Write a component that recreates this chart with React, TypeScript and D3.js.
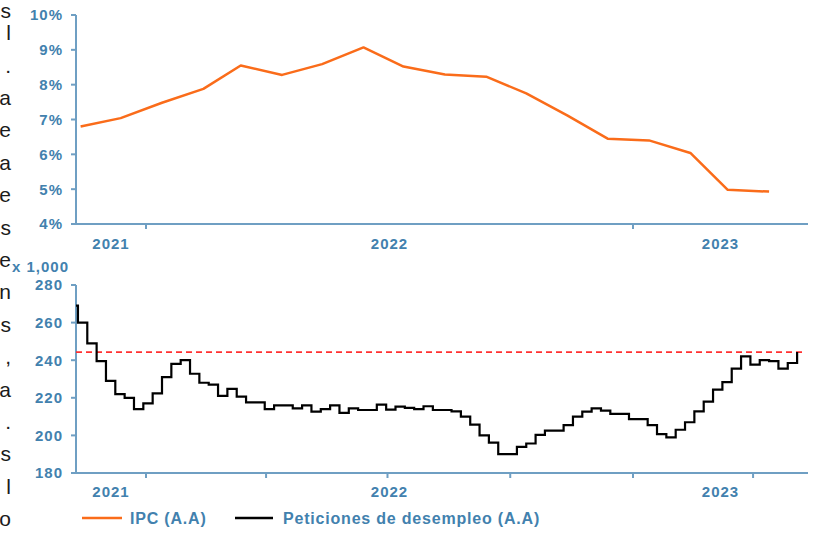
import React from "react";
import * as d3 from "d3";

// ---------- data ----------
const ipcDates: [number, number, number][] = [
  [2021, 10, 13], [2021, 11, 13],
  [2022, 0, 13], [2022, 1, 13], [2022, 2, 13], [2022, 3, 13], [2022, 4, 13], [2022, 5, 13],
  [2022, 6, 13], [2022, 7, 13], [2022, 8, 13], [2022, 9, 13], [2022, 10, 13], [2022, 11, 13],
  [2023, 0, 13], [2023, 1, 13], [2023, 2, 13], [2023, 3, 13],
];
const ipcValues = [6.8, 7.04, 7.48, 7.88, 8.55, 8.28, 8.59, 9.07, 8.52, 8.29, 8.23, 7.75, 7.11, 6.45, 6.4, 6.04, 4.98, 4.93];

const claimsFirstWeek: [number, number, number] = [2021, 10, 4];
const claimsValues = [
  269, 260, 249, 239.5, 229, 222, 220, 214, 217, 222.4, 231, 238, 240, 232.8, 228, 227, 221, 224.8,
  220.6, 217.6, 217.6, 214, 216, 216, 214.4, 216, 212.6, 214, 216, 212, 214.4, 213.5, 213.5, 216.4,
  213.7, 215.3, 214.6, 214, 215.5, 213.5, 213.5, 212.8, 210, 205.7, 200, 196.2, 190, 190, 193.9,
  195.7, 200.3, 202.5, 202.5, 205.5, 210, 212.6, 214.4, 213.2, 211.4, 211.4, 208.7, 208.7, 205.5,
  200.7, 198.9, 203, 207, 212.8, 218, 224.4, 228.3, 235.5, 242, 237.6, 240, 239.5, 235.5, 238.5, 244.3,
];
const claimsReference = 244.3;

const pctTicks = [4, 5, 6, 7, 8, 9, 10];
const claimsTicks = [180, 200, 220, 240, 260, 280];
const yearLabels = ["2021", "2022", "2023"];
const yearTicks: [number, number, number][] = [[2022, 0, 1], [2023, 0, 1]];
const quarterTicks: [number, number, number][] = [
  [2022, 0, 1], [2022, 3, 1], [2022, 6, 1], [2022, 9, 1], [2023, 0, 1], [2023, 3, 1],
];
const domainStart = new Date(2021, 10, 9, 13);
const domainEnd = new Date(2023, 4, 12, 4);
const unitLabel = "x 1,000";
const legendItems = ["IPC (A.A)", "Peticiones de desempleo (A.A)"];
const sideChars = ["s", "l", ".", "a", "e", "a", "e", "s", "e", "n", "s", ",", "a", ".", "s", "l", "o"];

// ---------- styles ----------
const AXIS = "#6f9fc3";
const TEXT = "#4281ae";
const ORANGE = "#fa6c1a";
const FONT = "'Liberation Sans', Arial, sans-serif";

const toDate = (d: [number, number, number]) => new Date(d[0], d[1], d[2]);

export default function App() {
  const W = 815, H = 533;
  const left = 76, right = 808;
  const x = d3.scaleTime().domain([domainStart, domainEnd]).range([left, right]);
  const yTop = d3.scaleLinear().domain([4, 10]).range([224, 15]);
  const yBot = d3.scaleLinear().domain([180, 280]).range([473, 285]);

  const ipc = ipcDates.map((d, i) => ({ date: toDate(d), v: ipcValues[i] }));
  const start = toDate(claimsFirstWeek);
  const claims = claimsValues.map((v, i) => ({ date: d3.timeDay.offset(start, 7 * i), v }));

  const ipcLine = d3.line<{ date: Date; v: number }>().x(d => x(d.date)).y(d => yTop(d.v));
  const claimsLine = d3
    .line<{ date: Date; v: number }>()
    .x(d => x(d.date))
    .y(d => yBot(d.v))
    .curve(d3.curveStepAfter);

  const bounds = [domainStart, ...yearTicks.map(toDate), domainEnd];
  const yearCenters = yearLabels.map((_, i) => (x(bounds[i]) + x(bounds[i + 1])) / 2);

  const tickLabel = { fontFamily: FONT, fontWeight: 700, fontSize: 15, letterSpacing: 1, fill: TEXT } as const;

  return (
    <div style={{ position: "absolute", left: 0, top: 0 }}>
      <svg width={W} height={H} style={{ display: "block", background: "#fff" }}>
        <defs>
          <clipPath id="plotclip">
            <rect x={left} y={0} width={right - left} height={H} />
          </clipPath>
        </defs>

        {/* side text fragments */}
        {sideChars.map((c, i) => (
          <text key={"s" + i} x={11} y={Math.max(18, 7.8 + i * 32.4)} textAnchor="end" fontFamily={FONT} fontSize={21} fill="#1b1b1b">
            {c}
          </text>
        ))}

        {/* ---------- top chart ---------- */}
        <line x1={left} x2={left} y1={yTop(10)} y2={yTop(4)} stroke={AXIS} strokeWidth={2} />
        <line x1={left} x2={right} y1={yTop(4)} y2={yTop(4)} stroke={AXIS} strokeWidth={2} />
        {pctTicks.map(t => (
          <g key={"pt" + t}>
            <line x1={left - 5} x2={left} y1={yTop(t)} y2={yTop(t)} stroke={AXIS} strokeWidth={2} />
            <text x={63} y={yTop(t)} dy="0.36em" textAnchor="end" {...tickLabel}>
              {t}%
            </text>
          </g>
        ))}
        {yearTicks.map((d, i) => (
          <line key={"yt" + i} x1={x(toDate(d))} x2={x(toDate(d))} y1={yTop(4)} y2={yTop(4) + 5} stroke={AXIS} strokeWidth={2} />
        ))}
        {yearLabels.map((l, i) => (
          <text key={"yl" + i} x={yearCenters[i]} y={249} textAnchor="middle" {...tickLabel}>
            {l}
          </text>
        ))}
        <path d={ipcLine(ipc) || ""} fill="none" stroke={ORANGE} strokeWidth={2.5} strokeLinejoin="round" />

        {/* ---------- bottom chart ---------- */}
        <text x={12} y={272} {...tickLabel}>
          {unitLabel}
        </text>
        <line x1={left} x2={left} y1={yBot(280)} y2={yBot(180)} stroke={AXIS} strokeWidth={2} />
        <line x1={left} x2={right} y1={yBot(180)} y2={yBot(180)} stroke={AXIS} strokeWidth={2} />
        {claimsTicks.map(t => (
          <g key={"ct" + t}>
            <line x1={left - 5} x2={left} y1={yBot(t)} y2={yBot(t)} stroke={AXIS} strokeWidth={2} />
            <text x={63} y={yBot(t)} dy="0.36em" textAnchor="end" {...tickLabel}>
              {t}
            </text>
          </g>
        ))}
        {quarterTicks.map((d, i) => (
          <line key={"qt" + i} x1={x(toDate(d))} x2={x(toDate(d))} y1={yBot(180)} y2={yBot(180) + 5} stroke={AXIS} strokeWidth={2} />
        ))}
        {yearLabels.map((l, i) => (
          <text key={"bl" + i} x={yearCenters[i]} y={497} textAnchor="middle" {...tickLabel}>
            {l}
          </text>
        ))}
        <line
          x1={left}
          x2={803}
          y1={yBot(claimsReference)}
          y2={yBot(claimsReference)}
          stroke="#ff3030"
          strokeWidth={1.8}
          strokeDasharray="6 4"
        />
        <path
          d={claimsLine(claims) || ""}
          fill="none"
          stroke="#000"
          strokeWidth={2.2}
          clipPath="url(#plotclip)"
        />

        {/* ---------- legend ---------- */}
        <line x1={82} x2={122} y1={518} y2={518} stroke={ORANGE} strokeWidth={2.5} />
        <text x={130} y={524} fontFamily={FONT} fontWeight={700} fontSize={16} letterSpacing={0.8} fill={TEXT}>
          {legendItems[0]}
        </text>
        <line x1={235} x2={273} y1={518} y2={518} stroke="#000" strokeWidth={2.5} />
        <text x={283} y={524} fontFamily={FONT} fontWeight={700} fontSize={16} letterSpacing={0.8} fill={TEXT}>
          {legendItems[1]}
        </text>
      </svg>
    </div>
  );
}
